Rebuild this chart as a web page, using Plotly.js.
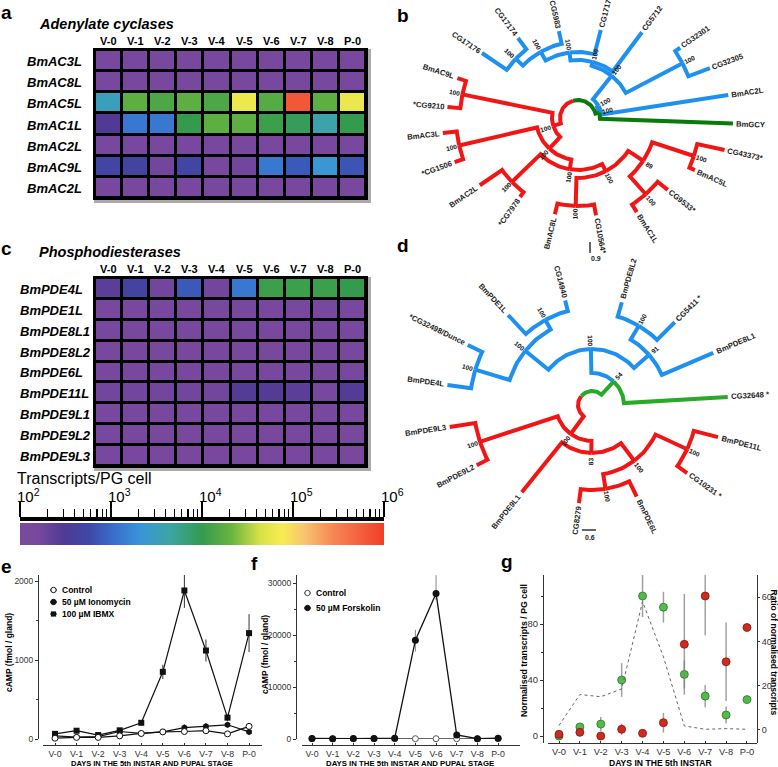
<!DOCTYPE html>
<html><head><meta charset="utf-8">
<script src="https://cdn.plot.ly/plotly-3.0.1.min.js"></script>
<style>html,body{margin:0;padding:0;background:#fff}#chart{width:778px;height:767px}</style>
</head><body><div id="chart"></div>
<script>
// ---------------- DATA ----------------
const days = ['V-0','V-1','V-2','V-3','V-4','V-5','V-6','V-7','V-8','P-0'];

// panel a: log10(transcripts / PG cell)
const acGenes = ['BmAC3L','BmAC8L','BmAC5L','BmAC1L','BmAC2L','BmAC9L','BmAC2L'];
const acLog = [
  [2.2,2.2,2.2,2.2,2.2,2.2,2.2,2.2,2.2,2.2],
  [2.2,2.2,2.2,2.2,2.2,2.2,2.2,2.2,2.2,2.2],
  [3.5,4.25,4.15,4.25,4.15,4.8,4.2,5.8,4.25,4.78],
  [2.48,3.1,3.1,4.0,4.25,4.25,4.05,3.95,3.6,4.0],
  [2.2,2.2,2.2,2.2,2.2,2.2,2.2,2.2,2.2,2.2],
  [2.7,2.65,2.25,2.7,2.2,2.25,3.1,2.88,3.35,2.85],
  [2.2,2.2,2.2,2.2,2.2,2.2,2.2,2.2,2.2,2.2]
];
// panel c
const pdeGenes = ['BmPDE4L','BmPDE1L','BmPDE8L1','BmPDE8L2','BmPDE6L','BmPDE11L','BmPDE9L1','BmPDE9L2','BmPDE9L3'];
const pdeLog = [
  [2.4,2.65,2.25,2.88,2.25,3.1,4.05,4.05,4.05,4.0],
  [2.2,2.2,2.2,2.2,2.2,2.2,2.2,2.2,2.2,2.2],
  [2.2,2.2,2.2,2.2,2.2,2.2,2.2,2.2,2.2,2.2],
  [2.2,2.2,2.2,2.2,2.2,2.2,2.2,2.2,2.2,2.2],
  [2.2,2.2,2.2,2.2,2.2,2.2,2.2,2.2,2.2,2.2],
  [2.25,2.25,2.25,2.25,2.25,2.45,2.45,2.4,2.2,2.45],
  [2.2,2.2,2.2,2.2,2.2,2.2,2.2,2.2,2.2,2.2],
  [2.2,2.2,2.2,2.2,2.2,2.2,2.2,2.2,2.2,2.2],
  [2.2,2.2,2.2,2.2,2.2,2.2,2.2,2.2,2.2,2.2]
];
const cbTickVals = [2,3,4,5,6];
const cbTickText = ['10<sup>2</sup>','10<sup>3</sup>','10<sup>4</sup>','10<sup>5</sup>','10<sup>6</sup>'];

// panel b / d trees: Newick with node radius as branch value, bootstrap as internal label
const treeBNewick = "((BmGCY:155,(BmAC2L:152,((CG32305:141,CG32301:124)100:118,(CG5712:107,(CG17178:91,(CG5983:89,(CG17174:100,CG17176:116)100:86)100:76)100:66)100:58)100:54)100:24)100:22,((BmAC9L:127,*CG9210:131)100:118,((BmAC3L:136,*CG1506:131)100:122,((BmAC2L:119,*CG7978:98)100:92,((BmAC8L:99,CG10564*:99)100:88,((BmAC1L:111,CG9533*:115)100:102,(BmAC5L:128,CG43373*:150)100:122)89:78)100:60)100:52)100:42)100:26):18";
const treeBAngles = [-2,8.7,20.7,34.5,53.3,75.5,102.4,126.9,145.9,161.7,175.2,186.3,199.7,214.4,233.7,256.5,280.5,302,321.3,336,347.7];
const treeBClades = ['G','B','B','B','B','B','B','B','B','R','R','R','R','R','R','R','R','R','R','R','R'];
const treeDNewick = "((CG32648 *:136,((BmPDE8L1:132,(CG5411 *:117,BmPDE8L2:107)100:92)91:76,((CG14940:108,BmPDE1L:123)100:97,(*CG32498/Dunce:138,BmPDE4L:146)100:122)100:86)100:56)54:32,((BmPDE9L3:144,BmPDE9L2:130)100:118,(BmPDE9L1:112,((CG8279:99,BmPDE6L:102)100:85,(CG10231 *:117,BmPDE11L:130)100:105)100:70)83:48)100:36):14";
const treeDAngles = [3.4,23.3,45,73.8,104.4,133,154.2,172.1,188.8,207.6,231.2,262.4,296,324.4,345.7];
const treeDClades = ['G','B','B','B','B','B','B','B','R','R','R','R','R','R','R'];

// panel e: cAMP (fmol/gland)
const eControl      = [10,20,20,40,70,90,95,105,65,160];
const eControlErr   = [8,8,8,10,10,10,15,15,10,20];
const eIonomycin    = [40,25,30,95,70,90,145,160,180,90];
const eIonomycinErr = [10,10,10,15,10,10,20,20,20,15];
const eIBMX         = [65,105,50,110,205,850,1880,1120,270,1340];
const eIBMXErr      = [20,20,15,20,25,90,220,140,40,240];
// panel f
const fControl       = [60,40,50,70,80,60,60,60,40,80];
const fForskolin     = [100,50,80,120,150,19000,28000,770,60,150];
const fForskolinErrP = [60,40,50,60,80,2000,3500,300,50,80];
const fForskolinErrM = [60,40,50,60,80,2200,1300,300,50,80];
// panel g
const gGreen    = [0,6.5,8.5,40,100,92,44,28.5,15,26];
const gGreenErr = [0.5,1.5,5,12,15,11,10,8,6,1.5];
const gRed      = [1.2,2.6,0,4.8,1.9,9.5,65.5,100,53,77.5];
const gRedErr   = [0.5,1,0.5,4,0.5,7,36,28,28,1.5];
const gRatio    = [2,16,15,18.5,58,33,1.8,0.3,0.6,0.3];

// ---------------- HELPERS ----------------
const W = 778, H = 767;
const FONT = 'Liberation Sans, Arial, Helvetica, sans-serif';
const PX = x => x / W, PY = y => 1 - y / H;
const domX = (a, b) => [a / W, b / W];
const domY = (a, b) => [1 - b / H, 1 - a / H];
const idx = days.map((d, i) => i);
const annotations = [], shapes = [], traces = [];
function note(x, y, text, size, o) {
  annotations.push(Object.assign({xref:'paper', yref:'paper', x:PX(x), y:PY(y), text:text, showarrow:false,
    xanchor:'center', yanchor:'middle', font:{family:FONT, size:size, color:'#000'}}, o || {}));
}
function pxShape(o) {
  return Object.assign({xref:'paper', yref:'paper'}, o, {x0:PX(o.x0), x1:PX(o.x1), y0:PY(o.y0), y1:PY(o.y1)});
}
const CS = [[0,'rgb(123,74,158)'],[0.05,'rgb(120,72,158)'],[0.12,'rgb(80,58,148)'],[0.19,'rgb(62,72,168)'],
  [0.26,'rgb(55,112,205)'],[0.33,'rgb(58,148,218)'],[0.41,'rgb(60,165,165)'],[0.5,'rgb(52,155,78)'],
  [0.58,'rgb(105,180,62)'],[0.66,'rgb(215,226,72)'],[0.72,'rgb(247,236,82)'],[0.78,'rgb(249,196,112)'],
  [0.86,'rgb(246,135,85)'],[1,'rgb(240,62,40)']];

// ---------------- HEATMAPS ----------------
function heatPanel(z, genes, xa, ya, box, labelX, showScale) {
  shapes.push(pxShape({type:'rect', x0:box[0]-1, x1:box[1]+5, y0:box[2]-1, y1:box[3]+5, fillcolor:'#aaa', line:{width:0}, layer:'below'}));
  shapes.push(pxShape({type:'rect', x0:box[0]-2, x1:box[1]+2, y0:box[2]-2, y1:box[3]+2, fillcolor:'#000', line:{width:0}, layer:'below'}));
  const t = {type:'heatmap', z:z, x:idx, y:genes.map((g,i)=>i), colorscale:CS, zmin:2, zmax:6,
    xgap:3, ygap:3, xaxis:xa, yaxis:ya, hoverinfo:'skip', showscale:showScale};
  if (showScale) t.colorbar = {orientation:'h', x:PX(20), xanchor:'left', y:PY(545), yanchor:'bottom',
    len:364, lenmode:'pixels', thickness:22, thicknessmode:'pixels', outlinewidth:0,
    showticklabels:false, ticks:'', xpad:0, ypad:0};
  traces.push(t);
  const cw = (box[1]-box[0]) / days.length, rh = (box[3]-box[2]) / genes.length;
  genes.forEach((g,i)=> note(labelX, box[2] + rh*(i+0.5) + 1, '<b><i>'+g+'</i></b>', 13, {xanchor:'left'}));
  days.forEach((d,j)=> note(box[0] + cw*(j+0.5), box[2] - 9, '<b>'+d+'</b>', 11));
}
heatPanel(acLog, acGenes, 'x', 'y', [95,366,50,198], 25, true);
heatPanel(pdeLog, pdeGenes, 'x2', 'y2', [95,366,278,466], 18, false);
note(37, 24, '<b><i>Adenylate cyclases</i></b>', 14.5, {xanchor:'left'});
note(37, 252, '<b><i>Phosphodiesterases</i></b>', 14.5, {xanchor:'left'});
note(15, 478, 'Transcripts/PG cell', 16, {xanchor:'left'});
cbTickVals.forEach((v,i)=> annotations.push({xref:'x6', yref:'paper', x:v, y:PY(507), text:cbTickText[i],
  showarrow:false, xanchor:'left', yanchor:'bottom', xshift:-5, font:{family:FONT, size:15, color:'#000'}}));
const minorVals = [];
for (let d = 2; d < 6; d++) for (let k = 2; k <= 9; k++) minorVals.push(d + Math.log10(k));
traces.push({type:'scatter', x:[], y:[], xaxis:'x6', yaxis:'y6', showlegend:false, hoverinfo:'skip'});

// ---------------- TREES ----------------
function parseNewick(s) {
  let i = 0;
  function node() {
    const n = {children:[]};
    if (s[i] === '(') {
      i++; n.children.push(node());
      while (s[i] === ',') { i++; n.children.push(node()); }
      i++;
    }
    let name = '';
    while (i < s.length && ',():'.indexOf(s[i]) < 0) name += s[i++];
    n.name = name; n.r = 0;
    if (s[i] === ':') { i++; let num = ''; while (i < s.length && ',()'.indexOf(s[i]) < 0) num += s[i++]; n.r = parseFloat(num); }
    return n;
  }
  return node();
}
function buildTree(nw, angles, clades) {
  const root = parseNewick(nw); let k = 0;
  (function assign(n) {
    if (!n.children.length) { n.a = angles[k]; n.clade = clades[k]; k++; n.leaf = true; }
    else {
      n.children.forEach(assign);
      n.a = (n.children[0].a + n.children[n.children.length-1].a) / 2;
      const set = new Set(n.children.map(c => c.clade));
      n.clade = set.size === 1 ? n.children[0].clade : 'G';
    }
  })(root);
  return root;
}
function textW(s, size) {
  let w = 0;
  for (const ch of s) {
    if (/[A-Z]/.test(ch)) w += 0.72;
    else if (/[a-z]/.test(ch)) w += (ch === 'm' ? 0.89 : (ch === 'i' || ch === 'l') ? 0.28 : 0.6);
    else if (/[0-9]/.test(ch)) w += 0.556;
    else if (ch === ' ') w += 0.28; else w += 0.4;
  }
  return w * size;
}
function radialAngle(a) {
  const rad = Math.PI / 180;
  let t = Math.cos(a * rad) >= 0 ? -a : 180 - a;
  while (t > 180) t -= 360; while (t < -180) t += 360;
  return t;
}
function drawTree(root, cx, cy, xa, ya, colors) {
  const rad = Math.PI / 180;
  const P = (r, a) => [cx + r * Math.cos(a * rad), cy - r * Math.sin(a * rad)];
  const segs = {}; Object.keys(colors).forEach(c => segs[c] = {x:[], y:[]});
  (function walk(n) {
    n.children.forEach(c => {
      const s = segs[c.clade];
      const steps = Math.max(1, Math.ceil(Math.abs(c.a - n.a) / 2));
      for (let j = 0; j <= steps; j++) { const p = P(n.r, n.a + (c.a - n.a) * j / steps); s.x.push(p[0]); s.y.push(p[1]); }
      const q = P(c.r, c.a); s.x.push(q[0]); s.y.push(q[1]); s.x.push(null); s.y.push(null);
      walk(c);
    });
    if (n.leaf) {
      const fs = 7.7, w = textW(n.name, fs), p = P(n.r + 3 + w / 2, n.a);
      annotations.push({xref:xa, yref:ya, x:p[0], y:p[1], text:'<b>'+n.name+'</b>', showarrow:false,
        textangle:radialAngle(n.a), xanchor:'center', yanchor:'middle', font:{family:FONT, size:fs, color:'#222'}});
    } else if (n.name) {
      const p = P(n.r + 8, n.a);
      annotations.push({xref:xa, yref:ya, x:p[0], y:p[1], text:'<b>'+n.name+'</b>', showarrow:false,
        textangle:radialAngle(n.a), xanchor:'center', yanchor:'middle', font:{family:FONT, size:6.5, color:'#111'}});
    }
  })(root);
  Object.keys(colors).forEach(c => traces.push({type:'scatter', mode:'lines', x:segs[c].x, y:segs[c].y,
    xaxis:xa, yaxis:ya, line:{color:colors[c], width:4}, hoverinfo:'skip', showlegend:false, cliponaxis:false}));
}
drawTree(buildTree(treeBNewick, treeBAngles, treeBClades), 578, 118, 'x3', 'y3',
  {B:'rgb(30,144,240)', R:'rgb(240,22,22)', G:'rgb(10,122,10)'});
drawTree(buildTree(treeDNewick, treeDAngles, treeDClades), 592, 405, 'x4', 'y4',
  {B:'rgb(30,144,240)', R:'rgb(240,22,22)', G:'rgb(40,170,40)'});
shapes.push({type:'line', xref:'x3', yref:'y3', x0:590, x1:590, y0:242, y1:253, line:{color:'#000', width:1.2}});
annotations.push({xref:'x3', yref:'y3', x:596, y:258, text:'<b>0.9</b>', showarrow:false, font:{family:FONT, size:7, color:'#222'}});
shapes.push({type:'line', xref:'x4', yref:'y4', x0:582, x1:596, y0:530, y1:530, line:{color:'#000', width:1.2}});
annotations.push({xref:'x4', yref:'y4', x:590, y:537, text:'<b>0.6</b>', showarrow:false, font:{family:FONT, size:7, color:'#222'}});

// ---------------- LINE CHARTS ----------------
const blk = '#111';
traces.push({type:'scatter', mode:'lines+markers', x:idx, y:eIBMX, xaxis:'x5', yaxis:'y5', cliponaxis:false,
  error_y:{type:'data', array:eIBMXErr, thickness:1, width:0, color:'#333'},
  marker:{symbol:'square', size:6, color:blk}, line:{color:blk, width:1.2}, hoverinfo:'skip', showlegend:false});
traces.push({type:'scatter', mode:'lines+markers', x:idx, y:eIonomycin, xaxis:'x5', yaxis:'y5', cliponaxis:false,
  error_y:{type:'data', array:eIonomycinErr, thickness:1, width:0, color:'#333'},
  marker:{symbol:'hexagon', size:6.5, color:blk}, line:{color:blk, width:1.2}, hoverinfo:'skip', showlegend:false});
traces.push({type:'scatter', mode:'lines+markers', x:idx, y:eControl, xaxis:'x5', yaxis:'y5', cliponaxis:false,
  error_y:{type:'data', array:eControlErr, thickness:1, width:0, color:'#333'},
  marker:{symbol:'circle', size:6, color:'#fff', line:{color:blk, width:1}}, line:{color:blk, width:1.2}, hoverinfo:'skip', showlegend:false});

traces.push({type:'scatter', mode:'lines+markers', x:idx, y:fControl, xaxis:'x7', yaxis:'y7', cliponaxis:false,
  marker:{symbol:'circle', size:6, color:'#fff', line:{color:'#555', width:1}}, line:{color:'#333', width:1}, hoverinfo:'skip', showlegend:false});
traces.push({type:'scatter', mode:'lines+markers', x:idx, y:fForskolin, xaxis:'x7', yaxis:'y7', cliponaxis:false,
  error_y:{type:'data', array:fForskolinErrP, arrayminus:fForskolinErrM, thickness:1, width:0, color:'#888'},
  marker:{symbol:'circle', size:7, color:blk}, line:{color:blk, width:1.3}, hoverinfo:'skip', showlegend:false});

traces.push({type:'scatter', mode:'lines', x:idx, y:gRatio, xaxis:'x8', yaxis:'y9', cliponaxis:false,
  line:{color:'#666', width:1, dash:'dot'}, hoverinfo:'skip', showlegend:false});
traces.push({type:'scatter', mode:'markers', x:idx, y:gGreen, xaxis:'x8', yaxis:'y8', cliponaxis:false,
  error_y:{type:'data', array:gGreenErr, thickness:1.5, width:0, color:'rgba(130,130,130,0.75)'},
  marker:{size:8, color:'rgb(84,186,76)', line:{color:'rgb(40,120,40)', width:0.8}}, hoverinfo:'skip', showlegend:false});
traces.push({type:'scatter', mode:'markers', x:idx, y:gRed, xaxis:'x8', yaxis:'y8', cliponaxis:false,
  error_y:{type:'data', array:gRedErr, thickness:1.5, width:0, color:'rgba(130,130,130,0.75)'},
  marker:{size:8, color:'rgb(206,42,30)', line:{color:'rgb(120,26,18)', width:0.8}}, hoverinfo:'skip', showlegend:false});

// legends (e, f)
function legSym(x, y, kind, col) {
  shapes.push(pxShape({type:'line', x0:x-3.5, x1:x+3.5, y0:y, y1:y, line:{color:col, width:1}}));
  if (kind === 'sq') shapes.push(pxShape({type:'rect', x0:x-2.6, x1:x+2.6, y0:y-2.6, y1:y+2.6, fillcolor:col, line:{width:0}}));
  else shapes.push(pxShape({type:'circle', x0:x-2.7, x1:x+2.7, y0:y-2.7, y1:y+2.7,
    fillcolor: kind === 'open' ? '#fff' : col, line:{color:col, width:1}}));
}
legSym(53.5, 590, 'open', blk); legSym(53.5, 602, 'fill', blk); legSym(53.5, 614, 'sq', blk);
note(60, 590, '<b>Control</b>', 8.5, {xanchor:'left'});
note(60, 602, '<b>50 \u00b5M Ionomycin</b>', 8.5, {xanchor:'left'});
note(60, 614, '<b>100 \u00b5M IBMX</b>', 8.5, {xanchor:'left'});
legSym(307.5, 593, 'open', '#444'); legSym(307.5, 608, 'fill', blk);
note(314, 593, '<b>Control</b>', 8.5, {xanchor:'left'});
note(314, 608, '<b>50 \u00b5M Forskolin</b>', 8.5, {xanchor:'left'});

// axis titles
note(9, 653, '<b>cAMP (fmol / gland)</b>', 8.5, {textangle:-90});
note(265, 655, '<b>cAMP (fmol / gland)</b>', 8.5, {textangle:-90});
note(152, 763, '<b>DAYS IN THE 5th INSTAR AND PUPAL STAGE</b>', 7.5);
note(410, 763, '<b>DAYS IN THE 5th INSTAR AND PUPAL STAGE</b>', 7.8);
note(660, 762.5, '<b>DAYS IN THE 5th INSTAR</b>', 8.6);
note(524, 651, '<b>Normalised transcripts / PG cell</b>', 8.8, {textangle:-90});
note(773.5, 652, '<b>Ratio of normalised transcripts</b>', 8.5, {textangle:90});

// panel letters
note(6, 13, '<b>a</b>', 19); note(403, 15, '<b>b</b>', 19);
note(6, 249, '<b>c</b>', 19); note(403, 246, '<b>d</b>', 19);
note(6, 566, '<b>e</b>', 19); note(254, 563, '<b>f</b>', 19);
note(507, 561, '<b>g</b>', 19);

// ---------------- LAYOUT ----------------
const hid = {visible:false, fixedrange:true};
const ax = (o) => Object.assign({showgrid:false, zeroline:false, showline:true, linecolor:'#333', linewidth:1,
  ticks:'outside', tickcolor:'#333', fixedrange:true, exponentformat:'none', separatethousands:false,
  tickfont:{family:FONT, size:9, color:'#333'}}, o);
const layout = {
  width:W, height:H, margin:{l:0, r:0, t:0, b:0}, paper_bgcolor:'#fff', plot_bgcolor:'rgba(0,0,0,0)',
  showlegend:false, font:{family:FONT},
  xaxis: Object.assign({domain:domX(95,366), range:[-0.5,9.5], anchor:'y'}, hid),
  yaxis: Object.assign({domain:domY(50,198), range:[6.5,-0.5], anchor:'x'}, hid),
  xaxis2: Object.assign({domain:domX(95,366), range:[-0.5,9.5], anchor:'y2'}, hid),
  yaxis2: Object.assign({domain:domY(278,466), range:[8.5,-0.5], anchor:'x2'}, hid),
  xaxis3: Object.assign({domain:domX(380,778), range:[380,778], anchor:'y3'}, hid),
  yaxis3: Object.assign({domain:domY(0,262), range:[262,0], anchor:'x3'}, hid),
  xaxis4: Object.assign({domain:domX(380,778), range:[380,778], anchor:'y4'}, hid),
  yaxis4: Object.assign({domain:domY(262,560), range:[560,262], anchor:'x4'}, hid),
  xaxis5: ax({domain:domX(43,262), range:[-0.557,9.6], anchor:'free', position:PY(745),
    tickmode:'array', tickvals:idx, ticktext:days, ticks:'inside', ticklen:2, tickfont:{family:FONT, size:8.8, color:'#333'}}),
  yaxis5: ax({domain:domY(575,739), range:[0,2076], anchor:'free', position:PX(38), tick0:0, dtick:1000, ticklen:3,
    tickformat:'d', minor:{dtick:500, ticks:'outside', ticklen:2, tickcolor:'#333'}, tickfont:{family:FONT, size:8.5, color:'#333'}}),
  xaxis6: {domain:domX(20,384), range:[2,6], anchor:'y6', side:'top', tickmode:'array', tickvals:cbTickVals,
    showticklabels:false, ticks:'outside', ticklen:15, tickwidth:1.6, tickcolor:'#000', showline:true,
    linecolor:'#000', linewidth:4, showgrid:false, zeroline:false, fixedrange:true,
    minor:{tickmode:'array', tickvals:minorVals, ticks:'outside', ticklen:8, tickwidth:1.3, tickcolor:'#000'}},
  yaxis6: Object.assign({domain:domY(521,545), range:[0,1], anchor:'x6'}, hid),
  xaxis7: ax({domain:domX(302,520), range:[-0.484,10.06], anchor:'free', position:PY(745),
    tickmode:'array', tickvals:idx, ticktext:days, ticks:'inside', ticklen:2, tickfont:{family:FONT, size:8.8, color:'#333'}}),
  yaxis7: ax({domain:domY(575,739), range:[0,31540], anchor:'free', position:PX(296), tick0:0, dtick:10000, ticklen:3,
    tickformat:'d', minor:{dtick:5000, ticks:'outside', ticklen:2, tickcolor:'#333'}, tickfont:{family:FONT, size:8.5, color:'#333'}}),
  xaxis8: ax({domain:domX(548,757), range:[-0.527,9.48], anchor:'free', position:PY(743),
    tickmode:'array', tickvals:idx, ticktext:days, ticks:'inside', ticklen:2, tickfont:{family:FONT, size:9.3, color:'#333'}}),
  yaxis8: ax({domain:domY(575,743), range:[-5,115], anchor:'free', position:PX(543), tickmode:'array',
    tickvals:[0,40,80], ticklen:3, minor:{tickmode:'array', tickvals:[20,60,100], ticks:'outside', ticklen:2, tickcolor:'#333'},
    tickfont:{family:FONT, size:9.5, color:'#333'}}),
  yaxis9: ax({overlaying:'y8', side:'right', range:[-5.9,70], anchor:'free', position:PX(757), tickmode:'array',
    tickvals:[0,20,40,60], ticklen:2, tickfont:{family:FONT, size:9, color:'#333'}}),
  annotations: annotations, shapes: shapes
};
Plotly.newPlot('chart', traces, layout, {staticPlot:true, displayModeBar:false});
</script></body></html>
